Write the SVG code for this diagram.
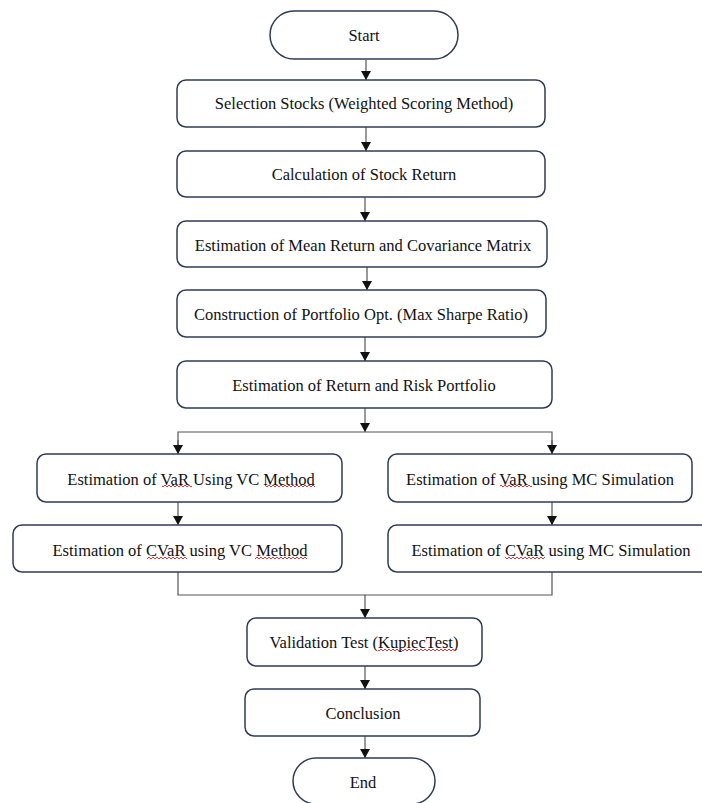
<svg xmlns="http://www.w3.org/2000/svg" width="702" height="803" viewBox="0 0 702 803">
<defs>
<style>
.box{fill:#fff;stroke:#2f3b55;stroke-width:1.5}
.t{font-family:"Liberation Serif","Times New Roman",serif;font-size:16.5px;fill:#111;text-anchor:middle;dominant-baseline:central}
.c{fill:none;stroke:#555;stroke-width:1.2}
.sq{fill:url(#wave)}
</style>
<marker id="ah" markerWidth="10" markerHeight="10" refX="9" refY="5" orient="auto" markerUnits="userSpaceOnUse" viewBox="0 0 10 10">
<path d="M0,0 L9,5 L0,10 Z" fill="#111"/>
</marker>
<pattern id="wave" width="4" height="4" patternUnits="userSpaceOnUse">
<path d="M0,2 Q1,0 2,2 T4,2" fill="none" stroke="#d42020" stroke-width="0.9"/>
</pattern>
</defs>
<rect width="702" height="803" fill="#fff"/>
<g id="connectors">
<line class="c" x1="366" y1="60" x2="366" y2="80" marker-end="url(#ah)"/>
<line class="c" x1="366" y1="127" x2="366" y2="151" marker-end="url(#ah)"/>
<line class="c" x1="365" y1="197" x2="365" y2="221" marker-end="url(#ah)"/>
<line class="c" x1="367" y1="267" x2="367" y2="290" marker-end="url(#ah)"/>
<line class="c" x1="365" y1="337" x2="365" y2="361" marker-end="url(#ah)"/>
<line class="c" x1="365" y1="408" x2="365" y2="432" marker-end="url(#ah)"/>
<polyline class="c" points="178,452 178,432 552,432 552,452"/>
<line class="c" x1="178" y1="440" x2="178" y2="454" marker-end="url(#ah)"/>
<line class="c" x1="552" y1="440" x2="552" y2="454" marker-end="url(#ah)"/>
<line class="c" x1="178" y1="502" x2="178" y2="525" marker-end="url(#ah)"/>
<line class="c" x1="552" y1="502" x2="552" y2="525" marker-end="url(#ah)"/>
<polyline class="c" points="178,572 178,595 552,595 552,572"/>
<line class="c" x1="365" y1="595" x2="365" y2="618" marker-end="url(#ah)"/>
<line class="c" x1="365" y1="666" x2="365" y2="689" marker-end="url(#ah)"/>
<line class="c" x1="365" y1="736" x2="365" y2="758" marker-end="url(#ah)"/>
</g>
<g id="start">
<rect class="box" x="270" y="11" width="188" height="48" rx="24"/>
<text class="t" x="364" y="35">Start</text>
</g>
<g id="selection">
<rect class="box" x="177" y="80" width="368" height="47" rx="9"/>
<text class="t" x="364" y="103">Selection Stocks (Weighted Scoring Method)</text>
</g>
<g id="calculation">
<rect class="box" x="177" y="151" width="368" height="46" rx="9"/>
<text class="t" x="364" y="174">Calculation of Stock Return</text>
</g>
<g id="mean">
<rect class="box" x="177" y="221" width="370" height="46" rx="9"/>
<text class="t" x="363" y="245">Estimation of Mean Return and Covariance Matrix</text>
</g>
<g id="construction">
<rect class="box" x="177" y="290" width="369" height="47" rx="9"/>
<text class="t" x="361" y="314">Construction of Portfolio Opt. (Max Sharpe Ratio)</text>
</g>
<g id="returnrisk">
<rect class="box" x="177" y="361" width="375" height="47" rx="9"/>
<text class="t" x="364" y="385">Estimation of Return and Risk Portfolio</text>
</g>
<g id="var-vc">
<rect class="box" x="37" y="454" width="305" height="48" rx="9"/>
<text class="t" x="191" y="479">Estimation of VaR Using VC Method</text>
<rect class="sq" x="162" y="485" width="30" height="4"/>
<rect class="sq" x="265" y="485" width="50" height="4"/>
</g>
<g id="cvar-vc">
<rect class="box" x="13" y="525" width="329" height="47" rx="9"/>
<text class="t" x="180" y="550">Estimation of CVaR using VC Method</text>
<rect class="sq" x="147" y="556" width="40" height="4"/>
<rect class="sq" x="255" y="556" width="52" height="4"/>
</g>
<g id="var-mc">
<rect class="box" x="388" y="454" width="304" height="48" rx="9"/>
<text class="t" x="540" y="479">Estimation of VaR using MC Simulation</text>
<rect class="sq" x="500" y="485" width="32" height="4"/>
</g>
<g id="cvar-mc">
<rect class="box" x="388" y="525" width="326" height="47" rx="9"/>
<text class="t" x="551" y="550">Estimation of CVaR using MC Simulation</text>
<rect class="sq" x="505" y="556" width="40" height="4"/>
</g>
<g id="validation">
<rect class="box" x="247" y="618" width="235" height="48" rx="9"/>
<text class="t" x="364" y="642">Validation Test (KupiecTest)</text>
<rect class="sq" x="378" y="648" width="79" height="4"/>
</g>
<g id="conclusion">
<rect class="box" x="245" y="689" width="235" height="47" rx="9"/>
<text class="t" x="363" y="713">Conclusion</text>
</g>
<g id="end">
<rect class="box" x="293" y="758" width="142" height="46" rx="23"/>
<text class="t" x="363" y="782">End</text>
</g>
</svg>
